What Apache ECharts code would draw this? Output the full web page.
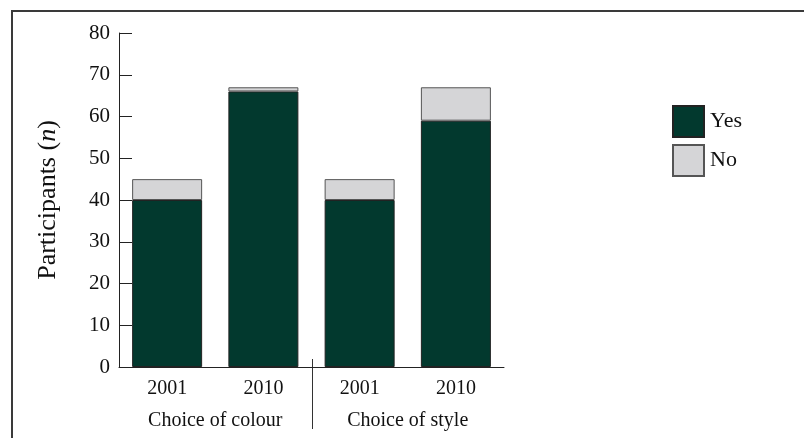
<!DOCTYPE html>
<html>
<head>
<meta charset="utf-8">
<script src="https://cdn.jsdelivr.net/npm/echarts@6/dist/echarts.min.js"></script>
<style>
html,body{margin:0;padding:0;background:#fff;}
#chart{width:804px;height:438px;}
</style>
</head>
<body>
<div id="chart"></div>
<script>
var years = ['2001', '2010', '2001', '2010'];
var groups = ['Choice of colour', 'Choice of style'];
var yesData = [40, 66, 40, 59];
var noData = [5, 1, 5, 8];
var yTicks = [0, 80, 10];

var font = 'Liberation Serif';
var chart = echarts.init(document.getElementById('chart'));

var option = {
    backgroundColor: '#fff',
    animation: false,
    textStyle: { fontFamily: font, color: '#111' },
    grid: { left: 119, right: 300, top: 33, bottom: 71 },
    legend: {
        orient: 'vertical',
        left: 672,
        top: 105,
        padding: 0,
        itemWidth: 31,
        itemHeight: 31,
        itemGap: 6,
        icon: 'rect',
        textStyle: { fontFamily: font, fontSize: 22, color: '#111', padding: [0, 0, 0, 1] },
        data: ['Yes', 'No']
    },
    xAxis: [{
        type: 'category',
        data: years,
        axisLine: { lineStyle: { color: '#222', width: 1 } },
        axisTick: { inside: true, length: 8, lineStyle: { color: '#444' } },
        axisLabel: { fontFamily: font, fontSize: 20, color: '#111', margin: 12 }
    }, {
        type: 'category',
        data: groups,
        position: 'bottom',
        axisLine: { show: false },
        axisTick: { show: false },
        axisLabel: { fontFamily: font, fontSize: 20, color: '#111', margin: 44 }
    }],
    yAxis: {
        type: 'value',
        min: yTicks[0],
        max: yTicks[1],
        interval: yTicks[2],
        name: 'Participants ({i|n})',
        nameLocation: 'middle',
        nameGap: 58,
        nameTextStyle: {
            fontFamily: font, fontSize: 26, color: '#111',
            rich: { i: { fontFamily: font, fontSize: 26, fontStyle: 'italic', color: '#111' } }
        },
        axisLine: { show: true, lineStyle: { color: '#222', width: 1 } },
        axisTick: { show: true, inside: true, length: 13, lineStyle: { color: '#222' } },
        splitLine: { show: false },
        axisLabel: { fontFamily: font, fontSize: 21, color: '#111', margin: 9 }
    },
    series: [{
        name: 'Yes',
        type: 'bar',
        stack: 'total',
        barWidth: 70,
        data: yesData,
        itemStyle: { color: '#02392e', borderColor: '#222', borderWidth: 1 }
    }, {
        name: 'No',
        type: 'bar',
        stack: 'total',
        barWidth: 70,
        data: noData,
        itemStyle: { color: '#d5d5d7', borderColor: '#555', borderWidth: 1 }
    }]
};
chart.setOption(option);

// divider between the two groups, placed from the axis scale
var xa = chart.convertToPixel({ xAxisIndex: 0 }, 1);
var xb = chart.convertToPixel({ xAxisIndex: 0 }, 2);
var y0 = chart.convertToPixel({ yAxisIndex: 0 }, 0);
var xm = Math.round((xa + xb) / 2) + 0.5;
chart.setOption({
    graphic: [{
        type: 'rect',
        shape: { x: 12, y: 11, width: 900, height: 600 },
        style: { fill: 'none', stroke: '#3a3a3a', lineWidth: 2 },
        silent: true
    }, {
        type: 'line',
        shape: { x1: xm, y1: y0 - 8, x2: xm, y2: y0 + 62 },
        style: { stroke: '#333', lineWidth: 1 },
        silent: true
    }]
});
</script>
</body>
</html>
